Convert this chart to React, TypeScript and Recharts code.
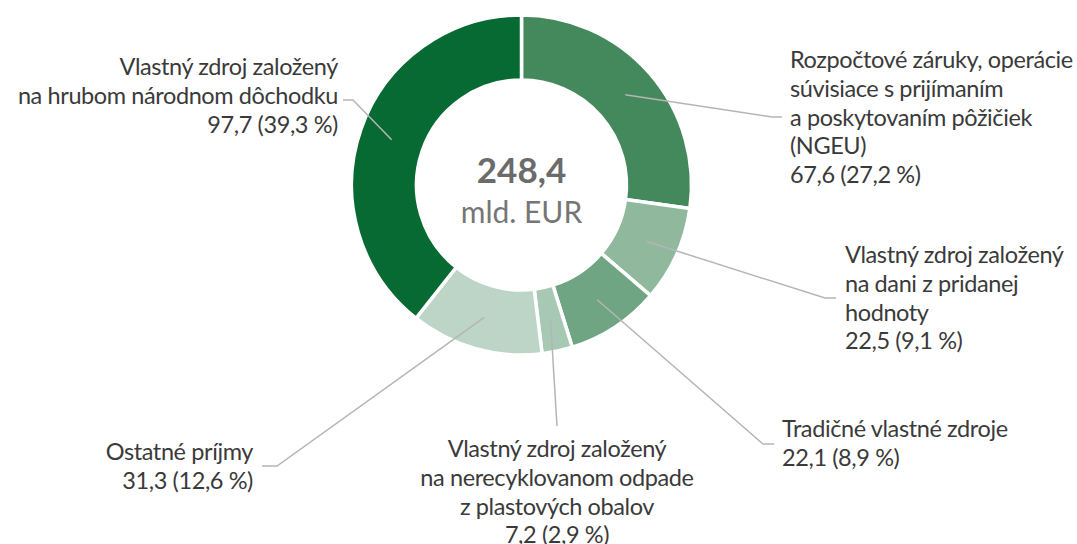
import React from "react";
import { PieChart, Pie, Cell } from "recharts";

const categoryLines: string[][] = [
  ["Rozpočtové záruky, operácie", "súvisiace s prijímaním", "a poskytovaním pôžičiek", "(NGEU)"],
  ["Vlastný zdroj založený", "na dani z pridanej", "hodnoty"],
  ["Tradičné vlastné zdroje"],
  ["Vlastný zdroj založený", "na nerecyklovanom odpade", "z plastových obalov"],
  ["Ostatné príjmy"],
  ["Vlastný zdroj založený", "na hrubom národnom dôchodku"],
];
const values: number[] = [67.6, 22.5, 22.1, 7.2, 31.3, 97.7];
const colors: string[] = ["#43895c", "#8fb89d", "#70a583", "#a7c8b3", "#bcd5c7", "#076a33"];
const centerUnit = "mld. EUR";

// label layout: elbow point, end point, text anchor, text x, first baseline
const labelLayout = [
  { elbow: [772, 117], end: [782, 117], anchor: "start", tx: 790, ty: 68 },
  { elbow: [825, 298], end: [836, 298], anchor: "start", tx: 845, ty: 263 },
  { elbow: [763, 444], end: [774, 444], anchor: "start", tx: 782, ty: 437 },
  { elbow: [557, 426], end: [557, 426], anchor: "middle", tx: 557, ty: 457 },
  { elbow: [277, 466], end: [262, 466], anchor: "end", tx: 253, ty: 460 },
  { elbow: [353, 100], end: [343, 100], anchor: "end", tx: 338, ty: 75 },
];

const FONT = "Lato, 'Open Sans', sans-serif";
const FS = 23.5;
const LS = -0.4;
const LINE_H = 28.8;
const fmt = (v: number) => v.toFixed(1).replace(".", ",");
const total = values.reduce((a, b) => a + b, 0);
const data = values.map((v, i) => ({ name: categoryLines[i].join(" "), value: v }));

const RADIAN = Math.PI / 180;

const renderLabel = (props: any) => {
  const { cx, cy, midAngle, innerRadius, outerRadius, index } = props;
  const r = (innerRadius + outerRadius) / 2;
  const sx = cx + r * Math.cos(-midAngle * RADIAN);
  const sy = cy + r * Math.sin(-midAngle * RADIAN);
  const L = labelLayout[index];
  const lines = [...categoryLines[index], `${fmt(values[index])} (${fmt((values[index] / total) * 100)} %)`];
  return (
    <g key={`lbl-${index}`}>
      <polyline
        points={`${sx},${sy} ${L.elbow[0]},${L.elbow[1]} ${L.end[0]},${L.end[1]}`}
        fill="none"
        stroke="#b5b5b5"
        strokeWidth={1.5}
      />
      <text
        x={L.tx}
        y={L.ty}
        textAnchor={L.anchor as any}
        fontFamily={FONT}
        fontSize={FS}
        letterSpacing={LS}
        fill="#3a3a3a"
      >
        {lines.map((t, j) => (
          <tspan key={j} x={L.tx} y={L.ty + j * LINE_H}>
            {t}
          </tspan>
        ))}
      </text>
      {index === 0 && (
        <g>
          <text x={cx} y={cy - 2} textAnchor="middle" fontFamily={FONT} fontWeight={700} fontSize={35} fill="#6b6b6b">
            {fmt(total)}
          </text>
          <text x={cx} y={cy + 38} textAnchor="middle" fontFamily={FONT} fontSize={30} fill="#767676">
            {centerUnit}
          </text>
        </g>
      )}
    </g>
  );
};

export default function App() {
  return (
    <div style={{ position: "absolute", left: 0, top: 0, width: 1077, height: 544, background: "#fff" }}>
      <PieChart width={1077} height={544} margin={{ top: 0, right: 0, bottom: 0, left: 0 }}>
        <Pie
          data={data}
          dataKey="value"
          nameKey="name"
          cx={521.5}
          cy={185}
          innerRadius={105}
          outerRadius={170}
          startAngle={90}
          endAngle={-270}
          stroke="#ffffff"
          strokeWidth={3.5}
          isAnimationActive={false}
          labelLine={false}
          label={renderLabel}
        >
          {data.map((d, i) => (
            <Cell key={i} fill={colors[i]} />
          ))}
        </Pie>
      </PieChart>
    </div>
  );
}
